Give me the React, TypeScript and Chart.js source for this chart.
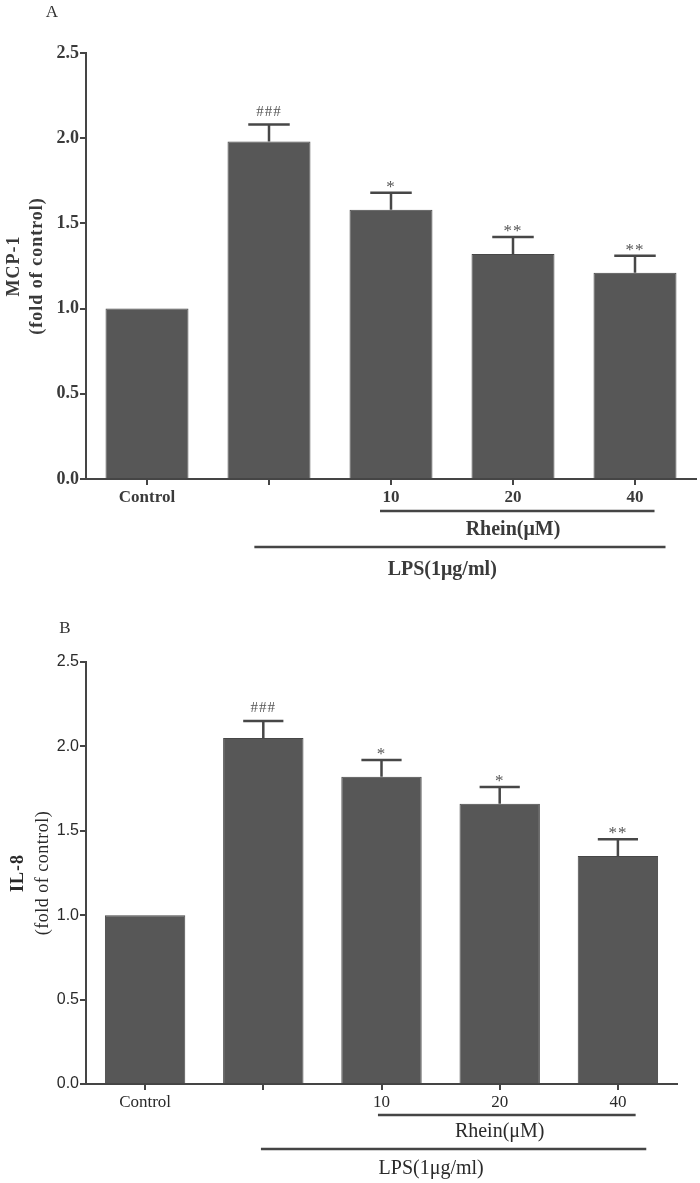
import React, { useEffect, useRef } from 'react';
import { Chart, registerables } from 'chart.js';

Chart.register(...registerables);

// ---------- data ----------
const categories = ['Control', '', '10', '20', '40'];
const yMin = 0;
const yMax = 2.5;
const yStep = 0.5;

const mcp1Means = [1.0, 1.98, 1.58, 1.32, 1.21];
const mcp1Errors = [0, 0.1, 0.1, 0.1, 0.1];
const mcp1Marks = ['', '###', '*', '**', '**'];

const il8Means = [1.0, 2.05, 1.82, 1.66, 1.35];
const il8Errors = [0, 0.1, 0.1, 0.1, 0.1];
const il8Marks = ['', '###', '*', '*', '**'];

const rheinLabel = 'Rhein(\u03bcM)';
const lpsLabel = 'LPS(1\u03bcg/ml)';

const SERIF = '"Liberation Serif", "Times New Roman", serif';
const SANS = '"Liberation Sans", Arial, sans-serif';

type PanelCfg = {
  top: number;
  height: number;
  areaTop: number;
  areaBottom: number;
  areaRight: number;
  letter: string;
  letterX: number;
  letterY: number;
  title1: string;
  title2: string;
  title1Font: string;
  title2Font: string;
  title2Spacing: string;
  title1X: number;
  title2X: number;
  titleY: number;
  means: number[];
  errors: number[];
  marks: string[];
  yTickFont: { family: string; size: number; weight: string };
  xTickFont: { family: string; size: number; weight: string };
  groupFont: string;
  textColor: string;
  rheinFrom: number;
  rheinTo: number;
  lpsFrom: number;
  lpsTo: number;
  rheinLineDy: number;
  rheinTextDy: number;
  lpsLineDy: number;
  lpsTextDy: number;
};

const panelA: PanelCfg = {
  top: 0,
  height: 595,
  areaTop: 53,
  areaBottom: 479,
  areaRight: 696,
  letter: 'A',
  letterX: 52,
  letterY: 13,
  title1: 'MCP-1',
  title2: '(fold of control)',
  title1Font: `bold 18px ${SERIF}`,
  title2Font: `bold 18px ${SERIF}`,
  title2Spacing: '1px',
  title1X: 14,
  title2X: 37,
  titleY: 266,
  means: mcp1Means,
  errors: mcp1Errors,
  marks: mcp1Marks,
  yTickFont: { family: SERIF, size: 18, weight: 'bold' },
  xTickFont: { family: SERIF, size: 17, weight: 'bold' },
  groupFont: `bold 20px ${SERIF}`,
  textColor: '#3a3a3a',
  rheinFrom: -0.09,
  rheinTo: 0.16,
  lpsFrom: -0.12,
  lpsTo: 0.25,
  rheinLineDy: 32,
  rheinTextDy: 51,
  lpsLineDy: 68,
  lpsTextDy: 91,
};

const panelB: PanelCfg = {
  top: 595,
  height: 588,
  areaTop: 67,
  areaBottom: 489,
  areaRight: 677,
  letter: 'B',
  letterX: 65,
  letterY: 34,
  title1: 'IL-8',
  title2: '(fold of control)',
  title1Font: `bold 18px ${SERIF}`,
  title2Font: `18px ${SERIF}`,
  title2Spacing: '0.5px',
  title1X: 18,
  title2X: 43,
  titleY: 278,
  means: il8Means,
  errors: il8Errors,
  marks: il8Marks,
  yTickFont: { family: SANS, size: 16, weight: 'normal' },
  xTickFont: { family: SERIF, size: 17, weight: 'normal' },
  groupFont: `20px ${SERIF}`,
  textColor: '#2a2a2a',
  rheinFrom: -0.03,
  rheinTo: 0.15,
  lpsFrom: -0.02,
  lpsTo: 0.24,
  rheinLineDy: 31,
  rheinTextDy: 48,
  lpsLineDy: 65,
  lpsTextDy: 85,
};

function Panel({ cfg }: { cfg: PanelCfg }) {
  const ref = useRef<HTMLCanvasElement>(null);

  useEffect(() => {
    const canvas = ref.current;
    if (!canvas) return;

    const overlay = {
      id: 'overlay',
      beforeInit(chart: any) {
        chart.ctx.letterSpacing = '0.5px';
      },
      afterDatasetsDraw(chart: any) {
        const ctx = chart.ctx;
        const y = chart.scales.y;
        const meta = chart.getDatasetMeta(0);
        ctx.save();
        meta.data.forEach((bar: any, i: number) => {
          const p = bar.getProps(['x', 'y', 'width'], true);
          const err = cfg.errors[i];
          const top = y.getPixelForValue(cfg.means[i] + err);
          if (err > 0) {
            ctx.strokeStyle = '#474747';
            ctx.lineWidth = 2.5;
            ctx.beginPath();
            ctx.moveTo(p.x, p.y);
            ctx.lineTo(p.x, top);
            const half = p.width * 0.25;
            ctx.moveTo(p.x - half, top);
            ctx.lineTo(p.x + half, top);
            ctx.stroke();
          }
          const mark = cfg.marks[i];
          if (mark) {
            ctx.fillStyle = '#555';
            ctx.textAlign = 'center';
            ctx.textBaseline = 'alphabetic';
            ctx.letterSpacing = '1px';
            if (mark.startsWith('#')) {
              ctx.font = `15px ${SERIF}`;
              ctx.fillText(mark, p.x, top - 9);
            } else {
              ctx.font = `17px ${SERIF}`;
              ctx.fillText(mark, p.x, top - 1);
            }
          }
        });
        ctx.restore();
      },
      afterDraw(chart: any) {
        const ctx = chart.ctx;
        const x = chart.scales.x;
        const area = chart.chartArea;
        const catW = (x.right - x.left) / categories.length;
        ctx.save();
        ctx.letterSpacing = '0px';
        // panel letter
        ctx.fillStyle = '#333';
        ctx.font = `17px ${SERIF}`;
        ctx.textAlign = 'center';
        ctx.textBaseline = 'middle';
        ctx.fillText(cfg.letter, cfg.letterX, cfg.letterY);

        // y titles
        ctx.fillStyle = cfg.textColor;
        ctx.letterSpacing = '1px';
        ctx.save();
        ctx.translate(cfg.title1X, cfg.titleY);
        ctx.rotate(-Math.PI / 2);
        ctx.font = cfg.title1Font;
        ctx.fillText(cfg.title1, 0, 0);
        ctx.restore();
        ctx.save();
        ctx.translate(cfg.title2X, cfg.titleY);
        ctx.rotate(-Math.PI / 2);
        ctx.font = cfg.title2Font;
        ctx.letterSpacing = cfg.title2Spacing;
        ctx.fillText(cfg.title2, 0, 0);
        ctx.restore();

        // group lines
        const c1 = x.getPixelForValue(1);
        const c2 = x.getPixelForValue(2);
        const c3 = x.getPixelForValue(3);
        const c4 = x.getPixelForValue(4);
        const base = area.bottom;
        ctx.strokeStyle = '#454545';
        ctx.lineWidth = 2.5;
        ctx.beginPath();
        ctx.moveTo(c2 + cfg.rheinFrom * catW, base + cfg.rheinLineDy);
        ctx.lineTo(c4 + cfg.rheinTo * catW, base + cfg.rheinLineDy);
        ctx.moveTo(c1 + cfg.lpsFrom * catW, base + cfg.lpsLineDy);
        ctx.lineTo(c4 + cfg.lpsTo * catW, base + cfg.lpsLineDy);
        ctx.stroke();

        ctx.font = cfg.groupFont;
        ctx.letterSpacing = '0px';
        ctx.textAlign = 'center';
        ctx.textBaseline = 'middle';
        ctx.fillText(rheinLabel, c3, base + cfg.rheinTextDy);
        ctx.fillText(lpsLabel, c2 + 0.42 * catW, base + cfg.lpsTextDy);
        ctx.restore();
      },
    };

    const chart = new Chart(canvas, {
      type: 'bar',
      data: {
        labels: categories,
        datasets: [
          {
            data: cfg.means,
            backgroundColor: '#575757',
            borderColor: '#474747',
            borderWidth: 1,
            categoryPercentage: 1,
            barPercentage: 0.68,
          },
        ],
      },
      options: {
        responsive: false,
        maintainAspectRatio: false,
        animation: false,
        events: [],
        layout: {
          padding: {
            left: 0,
            right: 700 - cfg.areaRight,
            top: cfg.areaTop,
            bottom: 0,
          },
        },
        plugins: {
          legend: { display: false },
          tooltip: { enabled: false },
          title: { display: false },
        },
        scales: {
          x: {
            type: 'category',
            offset: true,
            afterFit: (scale: any) => {
              scale.height = cfg.height - cfg.areaBottom;
            },
            border: { display: true, color: '#454545', width: 2 },
            grid: {
              display: true,
              drawOnChartArea: false,
              drawTicks: true,
              tickLength: 6,
              color: '#454545',
              lineWidth: 2,
              offset: false,
            },
            ticks: {
              color: cfg.textColor,
              font: cfg.xTickFont,
              padding: 2,
              maxRotation: 0,
              minRotation: 0,
              autoSkip: false,
            },
          },
          y: {
            type: 'linear',
            min: yMin,
            max: yMax,
            afterFit: (scale: any) => {
              scale.width = 86;
            },
            border: { display: true, color: '#454545', width: 2 },
            grid: {
              display: true,
              drawOnChartArea: false,
              drawTicks: true,
              tickLength: 6,
              color: '#454545',
              lineWidth: 2,
            },
            ticks: {
              stepSize: yStep,
              color: cfg.textColor,
              font: cfg.yTickFont,
              padding: 1,
              callback: (v: any) => Number(v).toFixed(1),
            },
          },
        },
      },
      plugins: [overlay],
    });

    return () => chart.destroy();
  }, [cfg]);

  return (
    <canvas
      ref={ref}
      width={700}
      height={cfg.height}
      style={{ position: 'absolute', left: 0, top: cfg.top, width: 700, height: cfg.height }}
    />
  );
}

export default function App() {
  return (
    <div
      style={{
        position: 'absolute',
        left: 0,
        top: 0,
        width: 700,
        height: 1183,
        background: '#fff',
        overflow: 'hidden',
      }}
    >
      <Panel cfg={panelA} />
      <Panel cfg={panelB} />
    </div>
  );
}
